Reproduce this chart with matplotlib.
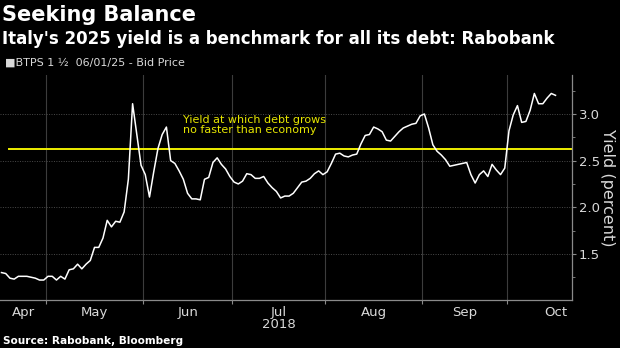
import numpy as np
import pandas as pd
import matplotlib
matplotlib.use('Agg')
import matplotlib.pyplot as plt
import matplotlib.transforms as mtransforms

plt.rcParams['font.family'] = ['Liberation Sans Narrow', 'DejaVu Sans']

# BTPS 1 1/2 06/01/25 bid yield, one value per business day from 16 Apr 2018
yield_pct = [1.30, 1.29, 1.24, 1.23, 1.26, 1.26, 1.26, 1.25, 1.24, 1.22,
             1.22, 1.26, 1.26, 1.22, 1.26, 1.23, 1.33, 1.34, 1.39, 1.34,
             1.39, 1.43, 1.57, 1.57, 1.67, 1.86, 1.79, 1.85, 1.84, 1.95,
             2.30, 3.11, 2.78, 2.45, 2.35, 2.11, 2.38, 2.63, 2.78, 2.86,
             2.50, 2.47, 2.39, 2.30, 2.15, 2.09, 2.09, 2.08, 2.30, 2.32,
             2.48, 2.53, 2.46, 2.41, 2.33, 2.27, 2.25, 2.28, 2.36, 2.35,
             2.31, 2.31, 2.33, 2.26, 2.21, 2.17, 2.10, 2.12, 2.12, 2.15,
             2.21, 2.27, 2.28, 2.31, 2.36, 2.39, 2.35, 2.38, 2.47, 2.57,
             2.58, 2.55, 2.54, 2.56, 2.57, 2.68, 2.77, 2.78, 2.86, 2.84,
             2.81, 2.72, 2.71, 2.76, 2.81, 2.85, 2.87, 2.89, 2.90, 2.98,
             3.00, 2.85, 2.67, 2.60, 2.56, 2.51, 2.44, 2.45, 2.46, 2.47,
             2.48, 2.35, 2.26, 2.35, 2.39, 2.33, 2.46, 2.40, 2.35, 2.42,
             2.82, 2.99, 3.09, 2.91, 2.92, 3.04, 3.22, 3.11, 3.11, 3.17,
             3.22, 3.20]
dates = pd.bdate_range('2018-04-16', periods=len(yield_pct))
threshold = 2.62
y_ticks = [1.5, 2.0, 2.5, 3.0]
y_minor = [1.25, 1.75, 2.25, 2.75, 3.25]

grey = '#8a8a8a'
txt = '#d9d9d9'

fig = plt.figure(figsize=(6.2, 3.48), dpi=100, facecolor='black')
ax = fig.add_axes([0, 1 - 300 / 348, 572 / 620, 225 / 348])
ax.set_facecolor('black')

x = np.arange(len(yield_pct))
xmin, xmax = -0.35, 134.9
ax.plot(x, yield_pct, color='white', lw=1.1, zorder=3)
ax.axhline(threshold, xmin=9 / 572, xmax=1, color='#eeee00', lw=1.4, zorder=2)
ax.text(43, 2.885, 'Yield at which debt grows\nno faster than economy',
        color='#e6e600', fontsize=8, va='center', ha='left', linespacing=1.05)

ax.set_xlim(xmin, xmax)
ax.set_ylim(1.006, 3.418)

# month boundaries (business-day index) and month label positions
periods = dates.to_period('M')
bounds = [i - 0.5 for i in range(1, len(dates)) if periods[i] != periods[i - 1]]
label_pos, label_txt = [], []
for m in periods.unique():
    bd = pd.bdate_range(m.start_time, m.end_time)
    first = np.busday_count(dates[0].date(), bd[0].date())
    mid = first - 0.5 + len(bd) / 2
    label_pos.append(min(max(mid, xmin + 5.6), xmax - 3.6))
    label_txt.append(m.strftime('%b'))

ax.set_xticks(bounds)
ax.set_xticklabels([])
ax.set_xticks(label_pos, minor=True)
ax.set_xticklabels(label_txt, minor=True)
ax.tick_params(axis='x', which='major', length=3, color=grey, direction='out')
ax.tick_params(axis='x', which='minor', length=0, labelsize=9.5, labelcolor=txt, pad=4)
trans = mtransforms.blended_transform_factory(ax.transData, fig.transFigure)
ax.text(label_pos[3], 1 - 325 / 348, '2018', transform=trans, ha='center', va='center',
        color=txt, fontsize=9.5)

ax.yaxis.tick_right()
ax.yaxis.set_label_position('right')
ax.set_yticks(y_ticks)
ax.set_yticklabels([f'{v:.1f}' for v in y_ticks])
ax.set_yticks(y_minor, minor=True)
ax.tick_params(axis='y', which='major', length=3, color=grey, labelsize=9.5,
               labelcolor=txt, pad=2)
ax.tick_params(axis='y', which='minor', length=2, color=grey)
ax.set_ylabel('Yield (percent)', rotation=270, color=txt, fontsize=11.5, labelpad=11)

ax.grid(axis='y', which='major', color='#4a4a4a', ls=(0, (1, 1.5)), lw=0.7)
ax.grid(axis='x', which='major', color='#3c3c3c', ls='-', lw=0.8)
for s in ['left', 'top']:
    ax.spines[s].set_visible(False)
for s in ['right', 'bottom']:
    ax.spines[s].set_color(grey)
    ax.spines[s].set_linewidth(0.9)

fig.text(0.003, 1 - 15 / 348, 'Seeking Balance', color='white', fontsize=15,
         fontweight='bold', family='DejaVu Sans', va='center', ha='left')
fig.text(0.003, 1 - 38.5 / 348, "Italy's 2025 yield is a benchmark for all its debt: Rabobank",
         color='white', fontsize=12, fontweight='bold', family='DejaVu Sans',
         va='center', ha='left')
fig.text(0.008, 1 - 63 / 348, '\u25a0BTPS 1 \u00bd  06/01/25 - Bid Price', color=txt,
         fontsize=8, va='center', ha='left', family=['Liberation Sans Narrow', 'DejaVu Sans'])
fig.text(0.005, 1 - 341 / 348, 'Source: Rabobank, Bloomberg', color='white', fontsize=7.6,
         fontweight='bold', family='DejaVu Sans', va='center', ha='left')

fig.savefig('out.png', dpi=100, facecolor='black')
